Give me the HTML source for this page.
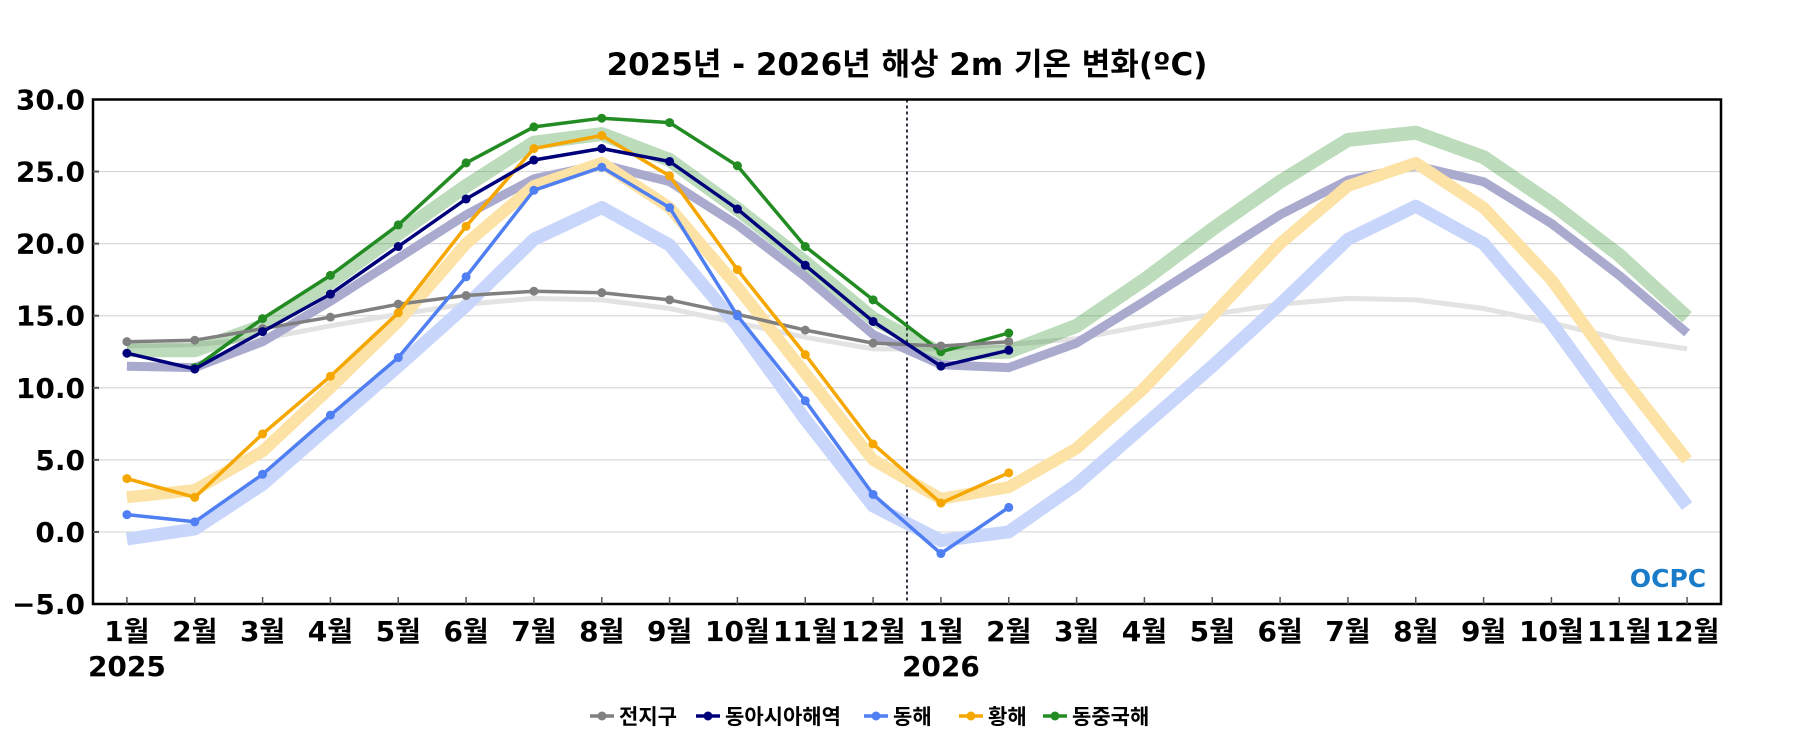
<!DOCTYPE html>
<html><head><meta charset="utf-8">
<style>
html,body{margin:0;padding:0;background:#fff;}
svg{display:block;font-family:"DejaVu Sans","Liberation Sans","Noto Sans CJK KR",sans-serif;}
</style></head>
<body>
<svg id="chart" width="1800" height="750" viewBox="0 0 1800 750">
<text x="907" y="75" text-anchor="middle" font-size="31" font-weight="bold">2025년 - 2026년 해상 2m 기온 변화(ºC)</text>
<g id="grid"></g>
<g id="bands"></g>
<g id="obs"></g>
<rect x="93" y="99.5" width="1628" height="504.5" fill="none" stroke="#000" stroke-width="2.5"/>
<g id="axes"></g>
<text x="1668" y="587" text-anchor="middle" font-size="25" font-weight="bold" fill="#1a7cc8">OCPC</text>
<g id="legend"></g>
</svg>
<script>
const months = ["1월","2월","3월","4월","5월","6월","7월","8월","9월","10월","11월","12월","1월","2월","3월","4월","5월","6월","7월","8월","9월","10월","11월","12월"];
const yTicks = [30,25,20,15,10,5,0,-5];
const yearLabels = ["2025","2026"];
const yearIdx = [0,12];
const seriesNames = ["전지구","동아시아해역","동해","황해","동중국해"];
const obsGlobal = [13.2,13.3,14.1,14.9,15.8,16.4,16.7,16.6,16.1,15.1,14.0,13.1,12.9,13.2];
const obsEastAsia = [12.4,11.3,13.9,16.5,19.8,23.1,25.8,26.6,25.7,22.4,18.5,14.6,11.5,12.6];
const obsEastSea = [1.2,0.7,4.0,8.1,12.1,17.7,23.7,25.3,22.5,15.0,9.1,2.6,-1.5,1.7];
const obsYellowSea = [3.7,2.4,6.8,10.8,15.2,21.2,26.6,27.5,24.7,18.2,12.3,6.1,2.0,4.1];
const obsECS = [null,11.4,14.8,17.8,21.3,25.6,28.1,28.7,28.4,25.4,19.8,16.1,12.5,13.8];
const climGlobal = [12.9,13.0,13.4,14.3,15.1,15.8,16.2,16.1,15.5,14.5,13.5,12.7,12.7,13.0,13.4,14.3,15.1,15.8,16.2,16.1,15.5,14.5,13.4,12.7];
const climEastAsia = [11.5,11.4,13.2,16.0,19.0,22.0,24.5,25.5,24.3,21.3,17.7,13.7,11.6,11.4,13.1,16.0,19.0,22.0,24.4,25.4,24.3,21.4,17.8,13.8];
const climEastSea = [-0.5,0.2,3.3,7.4,11.5,15.7,20.3,22.5,19.9,14.3,7.8,1.8,-0.6,0.0,3.3,7.4,11.5,15.8,20.3,22.6,20.0,14.5,8.0,1.8];
const climYellowSea = [2.4,2.9,5.6,10.0,14.6,20.0,24.0,25.6,22.5,17.0,11.0,5.0,2.3,3.1,5.8,10.0,15.0,20.0,24.0,25.6,22.5,17.5,11.0,5.0];
const climECS = [12.6,12.6,14.3,17.3,20.7,24.0,27.0,27.6,25.8,22.4,18.7,14.8,12.4,12.5,14.3,17.5,21.0,24.3,27.2,27.7,26.0,22.8,19.2,14.9];

const NS="http://www.w3.org/2000/svg";
const L=93,R=1721,T=99.5,B=604,ymin=-5,ymax=30;
const step=(R-L)/months.length;
const X=i=>L+(i+0.5)*step;
const Y=v=>T+(ymax-v)*(B-T)/(ymax-ymin);
function mk(tag,attrs,parent){const e=document.createElementNS(NS,tag);for(const k in attrs)e.setAttribute(k,attrs[k]);parent.appendChild(e);return e;}
const grid=document.getElementById('grid'),bands=document.getElementById('bands'),obs=document.getElementById('obs'),axes=document.getElementById('axes'),legend=document.getElementById('legend');

yTicks.forEach(v=>{
  if(v>ymin&&v<ymax){const g=mk('line',{x1:L,x2:R,y1:Y(v),y2:Y(v),stroke:'#d8d8d8','stroke-width':1.2},grid);
  
  
  const t=mk('line',{x1:L,x2:L+6,y1:Y(v),y2:Y(v),stroke:'#555','stroke-width':2},axes);
  
  }
  const lb=mk('text',{x:L-8,y:Y(v)+10,'text-anchor':'end','font-size':28,'font-weight':'bold'},axes);
  lb.textContent=(v<0?'\u2212':'')+Math.abs(v).toFixed(1);
  
  
});
const dv=mk('line',{x1:L+12*step,x2:L+12*step,y1:T,y2:B,stroke:'#334',"stroke-width":2,"stroke-dasharray":"3,3"},grid);


months.forEach((m,i)=>{
  const t=mk('line',{x1:X(i),x2:X(i),y1:B,y2:B-7,stroke:'#555','stroke-width':1.5},axes);
  
  
  const lb=mk('text',{x:X(i),y:641,'text-anchor':'middle','font-size':28,'font-weight':'bold'},axes);
  lb.textContent=m;
  
  
});
yearLabels.forEach((y,k)=>{
  const lb=mk('text',{x:X(yearIdx[k]),y:676,'text-anchor':'middle','font-size':28,'font-weight':'bold'},axes);
  lb.textContent=y;
  
  
});
function pts(arr){return arr.map((v,i)=>v==null?null:X(i).toFixed(1)+','+Y(v).toFixed(1)).filter(p=>p).join(' ');}
const bandDefs=[[climGlobal,'#e3e3e3',5],[climEastAsia,'#aaaacf',9],[climEastSea,'#c9d6fb',13],[climYellowSea,'#fde2a6',12],[climECS,'rgba(34,139,34,0.3)',14]];
bandDefs.forEach(([a,c,w],k)=>{
  const p=mk('polyline',{points:pts(a),fill:'none',stroke:c,'stroke-width':w,'stroke-linejoin':'round'},bands);
  
  
});
const obsDefs=[[obsGlobal,'#808080'],[obsEastAsia,'#00007a'],[obsEastSea,'#4f7ff2'],[obsYellowSea,'#f5a700'],[obsECS,'#228b22']];
const order=[4,0,3,2,1];
order.forEach(k=>{
  const [a,c]=obsDefs[k];
  const p=mk('polyline',{points:pts(a),fill:'none',stroke:c,'stroke-width':3.5,'stroke-linejoin':'round'},obs);
  
  
  a.forEach((v,i)=>{if(v==null)return;
    const d=mk('circle',{cx:X(i),cy:Y(v),r:4.5,fill:c},obs);
    
    
  });
});
const legX=[590,696,864,959,1043];
seriesNames.forEach((n,k)=>{
  const c=obsDefs[k][1];
  const g=mk('g',{},legend);
  
  
  mk('line',{x1:legX[k],x2:legX[k]+24,y1:716,y2:716,stroke:c,'stroke-width':3.5},g);
  mk('circle',{cx:legX[k]+12,cy:716,r:4.5,fill:c},g);
  const t=mk('text',{x:legX[k]+29,y:724,'font-size':21,'font-weight':'bold'},g);
  t.textContent=n;
});
</script>
</body></html>
